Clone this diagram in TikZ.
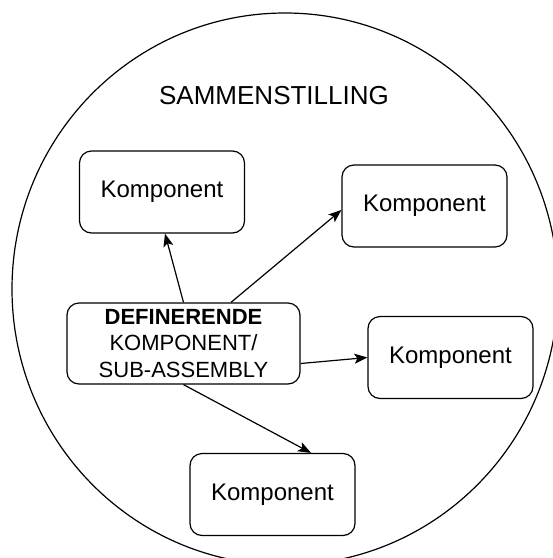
\documentclass[tikz,border=0pt]{standalone}
\usepackage{fontspec}
\setmainfont{Liberation Sans}
\usetikzlibrary{arrows.meta}
\tikzset{
  comp/.style={draw, line width=1.2pt, rounded corners=12pt, minimum width=165pt, minimum height=82pt, inner sep=0pt, align=center, font=\fontsize{24}{28}\selectfont},
  defbox/.style={draw, line width=1.2pt, rounded corners=12pt, minimum width=233pt, minimum height=81pt, inner sep=0pt, align=center, font=\fontsize{22}{26.5}\selectfont},
  conn/.style={line width=1.2pt, -{Stealth[length=13pt, width=10pt, inset=3pt]}},
  title/.style={font=\fontsize{26}{30}\selectfont, inner sep=0pt}
}
\begin{document}
\begin{tikzpicture}[x=1pt, y=-1pt]
  \useasboundingbox (0,0) rectangle (553,558);
  \clip (0,0) rectangle (553,558);
  \draw[line width=1.2pt] (285,289) ellipse [x radius=273, y radius=276];
  \node[title] (ttl) at (274,96) {SAMMENSTILLING};
  \node[comp] (b1) at (162,192) {Komponent};
  \node[comp] (b2) at (424.5,206) {Komponent};
  \node[comp] (b3) at (450.5,357.5) {Komponent};
  \node[comp] (b4) at (272.5,494.5) {Komponent};
  \node[defbox] (c) at (183.5,343.5) {\textbf{DEFINERENDE}\\KOMPONENT/\\SUB-ASSEMBLY};
  \draw[conn] (c.north) -- ([xshift=3pt]b1.south);
  \draw[conn] ([xshift=47.5pt]c.north) -- ([yshift=-4pt]b2.west);
  \draw[conn] ([yshift=-20pt]c.east) -- (b3.west);
  \draw[conn] (c.south) -- ([xshift=38.5pt]b4.north);
\end{tikzpicture}
\end{document}
